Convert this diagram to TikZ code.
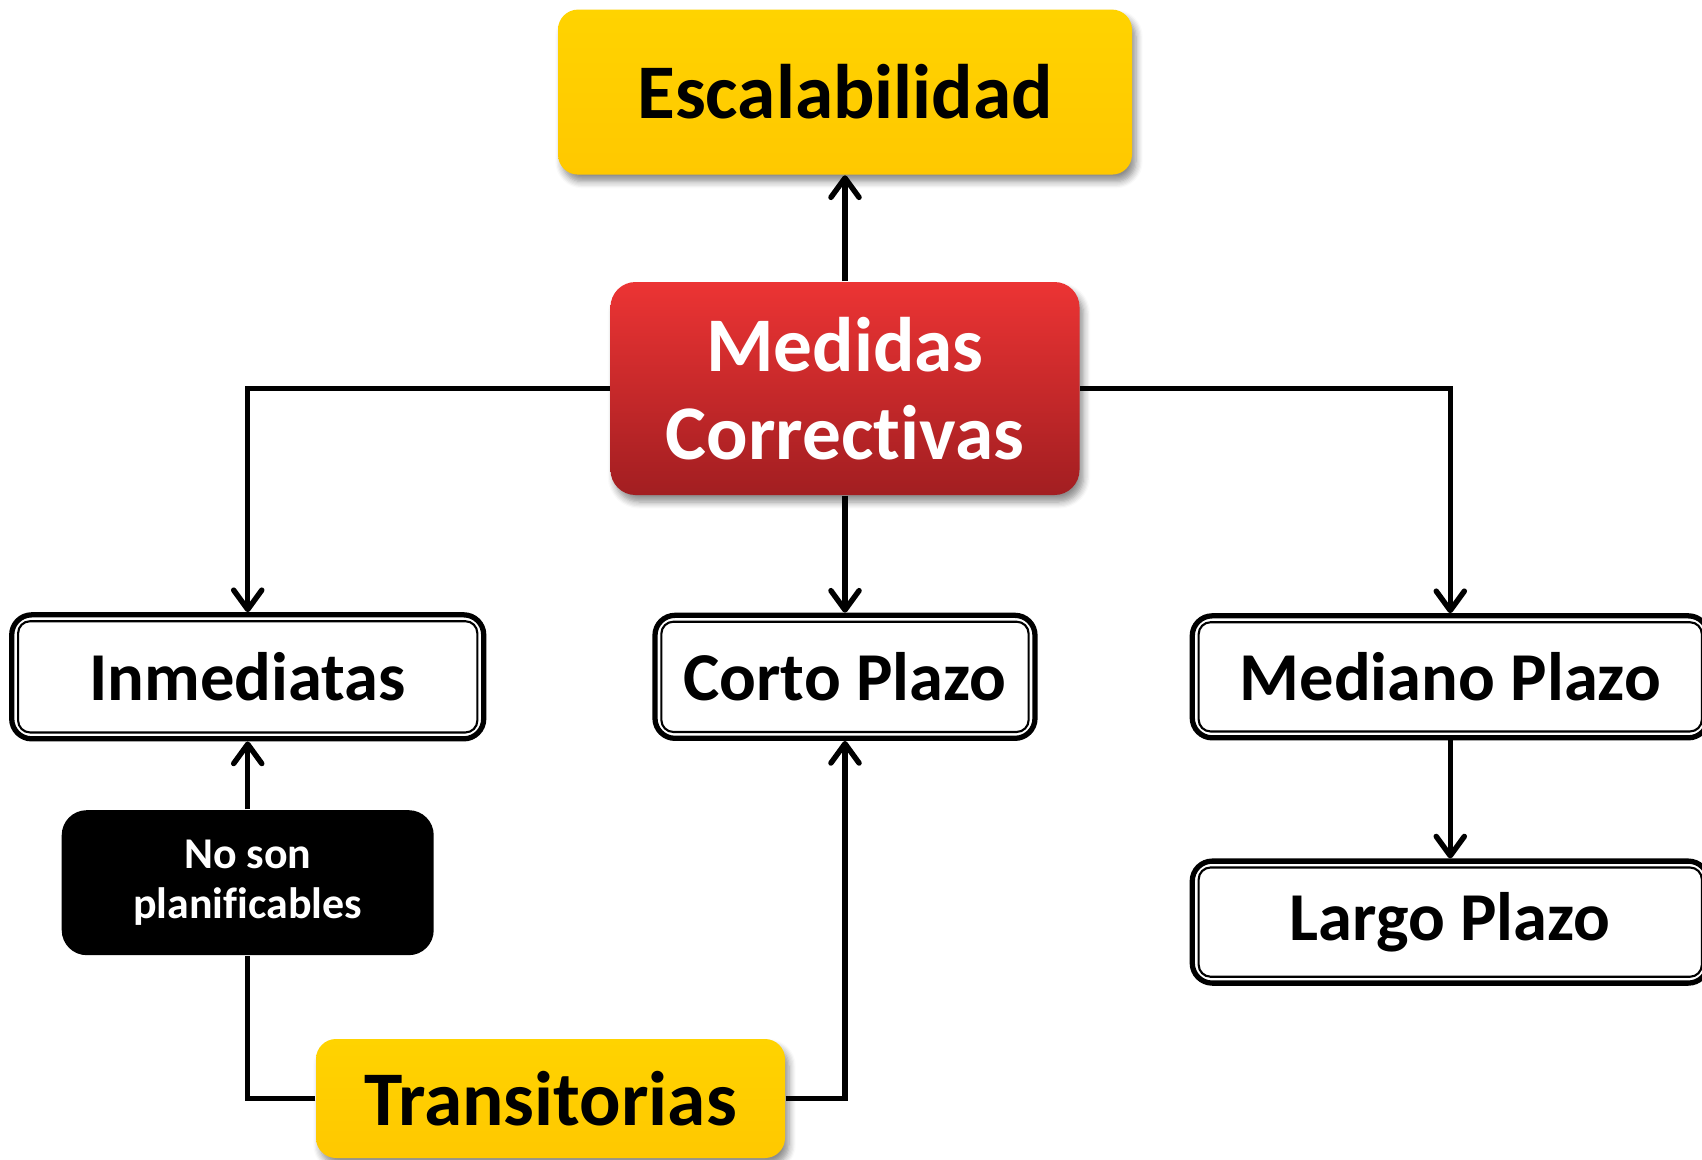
\documentclass[tikz,border=0pt]{standalone}
\usepackage{fontspec}
\setmainfont[Ligatures={NoCommon,NoRare}]{Carlito}
\usetikzlibrary{positioning, arrows.meta, shadows.blur}

\definecolor{amarillo}{HTML}{FFC800}
\definecolor{amarilloTop}{HTML}{FFD300}
\definecolor{rojoTop}{HTML}{EC3434}
\definecolor{rojoBot}{HTML}{A21E21}

\begin{document}
\begin{tikzpicture}[
every node/.style={
align=center,
inner sep=2pt,
text=black
},
gold/.style={
rounded corners=0.2cm,
top color=amarilloTop,
bottom color=amarillo,
blur shadow={shadow xshift=0.04cm, shadow yshift=-0.07cm, shadow blur steps=6, shadow opacity=45},
font=\bfseries\fontsize{22}{25}\selectfont
},
plazo/.style={
draw,
line width=1.5pt,
rounded corners=0.2cm,
fill=white,
font=\bfseries\fontsize{19.5}{22}\selectfont
},
innerline/.style={line width=0.6pt, rounded corners=0.12cm},
conn/.style={line width=1.55pt},
tip/.style={-{Straight Barb[length=5.5pt,width=8pt,round]}}
]
\useasboundingbox (0,0) rectangle (17.02,-11.6);

\node[rounded corners=0.25cm, top color=rojoTop, bottom color=rojoBot,
blur shadow={shadow xshift=0.04cm, shadow yshift=-0.07cm, shadow blur steps=6, shadow opacity=45},
minimum width=4.69cm, minimum height=2.13cm, text=white,
font=\bfseries\fontsize{22}{25}\selectfont] (med) at (8.45,-3.885) {Medidas\\Correctivas};
\node[gold, minimum width=5.74cm, minimum height=1.65cm, above=1.06cm of med] (esc) {Escalabilidad};
\node[plazo, minimum width=3.8cm, minimum height=1.23cm, below=1.17cm of med] (corto) {Corto Plazo};
\node[plazo, minimum width=4.72cm, minimum height=1.24cm, left=1.66cm of corto] (inm) {Inmediatas};
\node[plazo, minimum width=5.16cm, minimum height=1.22cm, right=1.52cm of corto] (mediano) {Mediano Plazo};
\node[plazo, minimum width=5.16cm, minimum height=1.22cm, below=1.18cm of mediano] (largo) {Largo Plazo};
\node[fill=black, rounded corners=0.25cm, text=white, minimum width=3.72cm, minimum height=1.45cm,
font=\bfseries\fontsize{12.5}{14.2}\selectfont, below=0.68cm of inm] (nosp) {No son\\planificables};
\node[gold, minimum width=4.69cm, minimum height=1.19cm] (trans) at (5.505,-10.985) {Transitorias};

% doble borde
\foreach \n in {inm, corto, mediano, largo}
\draw[innerline] ([shift={(0.09,-0.09)}]\n.north west) rectangle ([shift={(-0.09,0.09)}]\n.south east);

\draw[conn, tip] (med.north) -- (med.north |- esc.south);
\draw[conn, tip] (med.west) -| (inm.north);
\draw[conn, tip] (med.east) -| (mediano.north);
\draw[conn, tip] (med.south) -- (corto.north);
\draw[conn, tip] (mediano.south) -- (largo.north);
\draw[conn, tip] (nosp.north) -- (nosp.north |- inm.south);
\draw[conn] (trans.west) -| (nosp.south);
\draw[conn, tip] (trans.east) -| (corto.south);
\end{tikzpicture}
\end{document}
